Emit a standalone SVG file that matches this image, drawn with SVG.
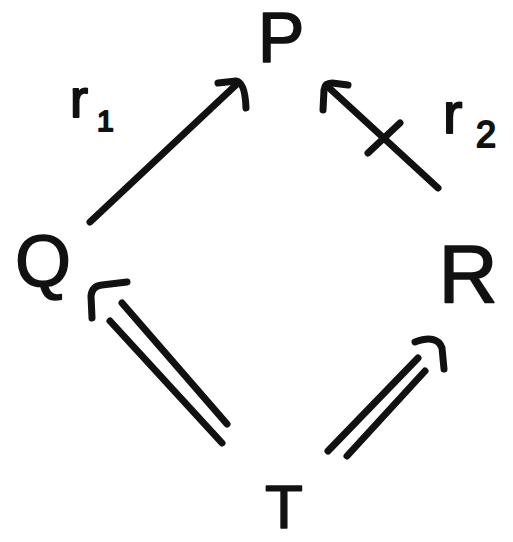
<svg xmlns="http://www.w3.org/2000/svg" width="513" height="542" viewBox="0 0 513 542">
<style>
.node{font-family:"Liberation Sans",Arial,sans-serif;fill:#111;stroke:#111;stroke-width:1.5;stroke-linejoin:round;text-anchor:middle}
.lbl{font-family:"Liberation Sans",Arial,sans-serif;fill:#111;stroke:#111;stroke-width:2;stroke-linejoin:round}
.e{fill:none;stroke:#111;stroke-width:7;stroke-linecap:round;stroke-linejoin:round}
</style>
<rect width="513" height="542" fill="#fff"/>
<g id="P"><text class="node" x="281" y="62" font-size="70">P</text></g>
<g id="Q"><text class="node" x="43" y="286" font-size="72">Q</text></g>
<g id="R"><text class="node" x="468" y="302" font-size="82">R</text></g>
<g id="T"><text class="node" x="284" y="528" font-size="62">T</text></g>
<g id="connectors">
  <g id="r1">
    <path class="e" d="M90,222 L238,83"/>
    <path class="e" d="M218,83 L236,81 Q245,82 246,108"/>
    <text class="lbl" x="70" y="117" font-size="54">r<tspan x="97" y="131" font-size="30">1</tspan></text>
  </g>
  <g id="r2">
    <path class="e" d="M438,188 L326,85"/>
    <path class="e" d="M323,110 L324,90 Q325,83 332,83 L348,85"/>
    <path class="e" d="M368,153 L400,123"/>
    <text class="lbl" x="443" y="133" font-size="58">r<tspan x="476" y="147" font-size="36">2</tspan></text>
  </g>
  <g id="TQ">
    <path class="e" d="M122,303 L227,424"/>
    <path class="e" d="M110,321 L222,443"/>
    <path class="e" d="M92,318 L91,296 Q92,286 102,285 L127,282"/>
  </g>
  <g id="TR">
    <path class="e" d="M328,451 L418,358"/>
    <path class="e" d="M347,456 L425,371"/>
    <path class="e" d="M415,342 Q437,334 442,348 L444,369"/>
  </g>
</g>
</svg>
